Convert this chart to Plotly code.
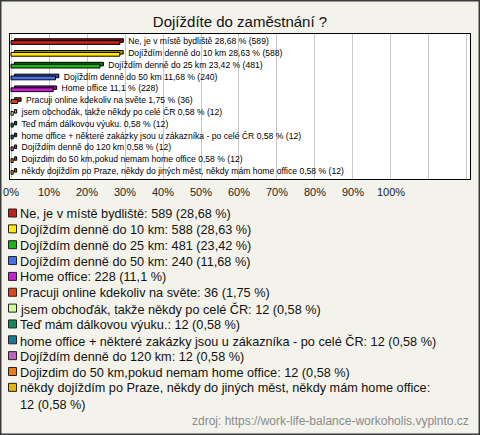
import plotly.graph_objects as go

# ---------------- data ----------------
title_text = "Dojíždíte do zaměstnání ?"
categories = [
    "Ne, je v místě bydliště",
    "Dojíždím denně do 10 km",
    "Dojíždím denně do 25 km",
    "Dojíždím denně do 50 km",
    "Home office",
    "Pracuji online kdekoliv na světe",
    "jsem obchoďák, takže někdy po celé ČR",
    "Teď mám dálkovou výuku.",
    "home office + některé zakázky jsou u zákazníka - po celé ČR",
    "Dojíždím denně do 120 km",
    "Dojizdim do 50 km,pokud nemam home office",
    "někdy dojíždím po Praze, někdy do jiných měst, někdy mám home office",
]
percents = [28.68, 28.63, 23.42, 11.68, 11.1, 1.75, 0.58, 0.58, 0.58, 0.58, 0.58, 0.58]
counts = [589, 588, 481, 240, 228, 36, 12, 12, 12, 12, 12, 12]
colors = [
    "#c4201a", "#ffe80a", "#16b816", "#4670ec", "#c81ed4", "#e2441a",
    "#ccff99", "#13885a", "#167a92", "#c262c2", "#e67e12", "#e8b20a",
]
dark_colors = [
    "#7a1410", "#a89a06", "#0e760e", "#2c4898", "#821488", "#932c10",
    "#84a662", "#0c583a", "#0e4f5e", "#7e3f7e", "#96520c", "#967306",
]
tick_values = list(range(0, 121, 10))
tick_labels = [f"{v}%" if v <= 100 else "" for v in tick_values]
source_text = "zdroj: https://work-life-balance-workoholis.vyplnto.cz"

# ---------------- layout geometry (pixels) ----------------
W, H = 480, 435
PL, PR, PT, PB = 10, 470, 34, 179  # plot box
BG = "#f4f3eb"
FONT = "Liberation Sans, Arial, sans-serif"
DEPTH = 0.9  # 3D depth of bars, in % units
LABEL_GAP = 1.3  # gap between bar end and its label, in % units


def px_x(px):
    return (px - PL) / (PR - PL)


def px_y(py):
    return (PB - py) / (PB - PT)


def fmt(p):
    return f"{p:g}".replace(".", ",")


ypos = list(range(len(categories)))
bar_texts = [f"{c} {fmt(p)} % ({n})" for c, p, n in zip(categories, percents, counts)]

fig = go.Figure()

# back (depth) face of the pseudo-3D bars
fig.add_trace(go.Bar(
    orientation="h", y=ypos, x=percents, base=[DEPTH] * len(percents),
    width=0.3, offset=-0.28,
    marker=dict(color=dark_colors, line=dict(color="#000000", width=1)),
    hoverinfo="skip", showlegend=False,
))
# front face
fig.add_trace(go.Bar(
    orientation="h", y=ypos, x=percents,
    width=0.32, offset=-0.12,
    marker=dict(color=colors, line=dict(color="#000000", width=1)),
    hoverinfo="skip", showlegend=False,
))
# value labels next to bars
fig.add_trace(go.Scatter(
    x=[p + DEPTH + LABEL_GAP for p in percents], y=ypos, mode="text",
    text=bar_texts, textposition="middle right",
    textfont=dict(family=FONT, size=8.6, color="#000000"),
    hoverinfo="skip", showlegend=False, cliponaxis=False,
))

annotations = []
shapes = []

# legend built from the data
line_h = 15.85
line0 = 213
k = 0
for c, p, n, col in zip(categories, percents, counts, colors):
    full = f"{c}: {n} ({fmt(p)} %)"
    if len(full) > 76:
        full = f"{c}:<br>{n} ({fmt(p)} %)"
    nlines = full.count("<br>") + 1
    cy = line0 + k * line_h
    shapes.append(dict(
        type="rect", xref="paper", yref="paper",
        x0=px_x(8.5), x1=px_x(16.5), y0=px_y(cy - 4), y1=px_y(cy + 4),
        fillcolor=col, line=dict(color="#222222", width=1),
    ))
    annotations.append(dict(
        xref="paper", yref="paper", x=px_x(18), y=px_y(cy - line_h / 2),
        xanchor="left", yanchor="top", align="left", showarrow=False,
        text=full, font=dict(family=FONT, size=12.7, color="#111111"),
    ))
    k += nlines

annotations.append(dict(
    xref="paper", yref="paper", x=px_x(471), y=px_y(421),
    xanchor="right", yanchor="middle", showarrow=False,
    text=source_text, font=dict(family=FONT, size=12, color="#8a8a8a"),
))

# outer frame
shapes.append(dict(
    type="rect", xref="paper", yref="paper",
    x0=px_x(0.75), x1=px_x(479.25), y0=px_y(434.25), y1=px_y(0.75),
    line=dict(color="#3a3a3a", width=1.5), fillcolor="rgba(0,0,0,0)", layer="below",
))

fig.update_layout(
    width=W, height=H,
    margin=dict(l=PL, r=W - PR, t=PT, b=H - PB, autoexpand=False),
    paper_bgcolor=BG, plot_bgcolor="#ffffff",
    barmode="overlay",
    title=dict(text=title_text, x=0.5, xanchor="center", y=1 - 22 / H, yanchor="middle",
               font=dict(family=FONT, size=15, color="#111111")),
    font=dict(family=FONT),
    annotations=annotations, shapes=shapes,
    xaxis=dict(
        range=[-0.27, 120.8], tickvals=tick_values, ticktext=tick_labels,
        showgrid=True, gridcolor="#c8c8c8", gridwidth=1, zeroline=False,
        showline=True, mirror=True, linecolor="#000000", linewidth=1,
        ticks="outside", ticklen=3, tickcolor="rgba(0,0,0,0)",
        tickfont=dict(family=FONT, size=11, color="#222222"), fixedrange=True,
    ),
    yaxis=dict(
        range=[11.6, -0.68], showticklabels=False, showgrid=False, zeroline=False,
        showline=True, mirror=True, linecolor="#000000", linewidth=1, fixedrange=True,
    ),
)

fig.write_html(
    "out.html",
    config={"displayModeBar": False},
    post_script="document.body.style.margin='0';document.body.style.overflow='hidden';",
)
